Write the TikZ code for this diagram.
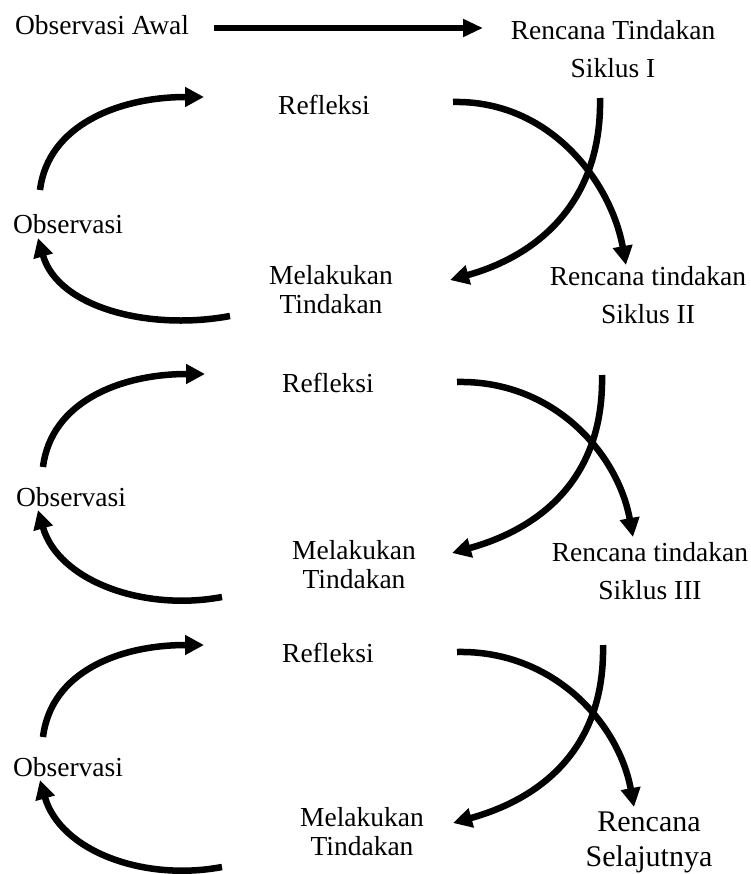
\documentclass[tikz,border=0pt]{standalone}
\usepackage{fontspec}
\setmainfont{Liberation Serif}
\usetikzlibrary{arrows.meta}
\tikzset{
  lbl/.style={inner sep=0pt, align=center, font=\fontsize{27.5}{38}\selectfont},
  lbltight/.style={inner sep=0pt, align=center, font=\fontsize{27.5}{29}\selectfont},
  lblbig/.style={inner sep=0pt, align=center, font=\fontsize{30}{35}\selectfont},
  arc/.style={line width=6.5pt, -{Triangle[length=19pt,width=19pt]}},
  straightarrow/.style={line width=5.5pt, -{Triangle[length=20pt,width=17pt]}}
}
\begin{document}
\begin{tikzpicture}[x=1pt,y=-1pt]
\useasboundingbox (0,0) rectangle (751,874);
% top row
\node[lbl] (obsawal) at (102,25) {Observasi Awal};
\node[lbl] (ren1) at (613,49) {Rencana Tindakan\\Siklus I};
\draw[straightarrow] (obsawal.east) ++(25,3) coordinate (ta) -- (483,28) coordinate (tb);

% cycle 1
\node[lbl] (refl1) at (324,105) {Refleksi};
\node[lbl] (obs1) at (68,224) {Observasi};
\node[lbltight] (mel1) at (331,290) {Melakukan\\Tindakan};
\node[lbl] (ren2) at (648,295) {Rencana tindakan\\Siklus II};
\coordinate (tl1s) at (40,190); \coordinate (tl1e) at (204,97);
\coordinate (bl1s) at (230,316); \coordinate (bl1e) at (38,238);
\coordinate (a1s) at (453,102); \coordinate (a1e) at (626,265);
\coordinate (b1s) at (600,98); \coordinate (b1e) at (450,280);
\draw[arc] (tl1s) .. controls +(8,-65) and +(-85,0) .. (tl1e);
\draw[arc] (bl1s) .. controls +(-80,15) and +(20,70) .. (bl1e);
\draw[arc] (a1s) .. controls +(97,-2) and +(-15,-83) .. (a1e);
\draw[arc] (b1s) .. controls +(2,102) and +(90,-25) .. (b1e);

% cycle 2
\node[lbl] (refl2) at (328,383) {Refleksi};
\node[lbl] (obs2) at (71,497) {Observasi};
\node[lbltight] (mel2) at (354,565) {Melakukan\\Tindakan};
\node[lbl] (ren3) at (650,571) {Rencana tindakan\\Siklus III};
\coordinate (tl2s) at (43,467); \coordinate (tl2e) at (205,374);
\coordinate (bl2s) at (222,597); \coordinate (bl2e) at (38,510);
\coordinate (a2s) at (457,382); \coordinate (a2e) at (633,537);
\coordinate (b2s) at (602,375); \coordinate (b2e) at (452,553);
\draw[arc] (tl2s) .. controls +(8,-65) and +(-85,0) .. (tl2e);
\draw[arc] (bl2s) .. controls +(-80,15) and +(20,70) .. (bl2e);
\draw[arc] (a2s) .. controls +(97,-2) and +(-15,-83) .. (a2e);
\draw[arc] (b2s) .. controls +(2,102) and +(90,-25) .. (b2e);

% cycle 3
\node[lbl] (refl3) at (328,653) {Refleksi};
\node[lbl] (obs3) at (68,767) {Observasi};
\node[lbltight] (mel3) at (362,832) {Melakukan\\Tindakan};
\node[lblbig] (ren4) at (649,842) {Rencana\\Selajutnya};
\coordinate (tl3s) at (43,737); \coordinate (tl3e) at (204,645);
\coordinate (bl3s) at (222,867); \coordinate (bl3e) at (40,780);
\coordinate (a3s) at (457,652); \coordinate (a3e) at (634,807);
\coordinate (b3s) at (603,645); \coordinate (b3e) at (453,823);
\draw[arc] (tl3s) .. controls +(8,-65) and +(-85,0) .. (tl3e);
\draw[arc] (bl3s) .. controls +(-80,15) and +(20,70) .. (bl3e);
\draw[arc] (a3s) .. controls +(97,-2) and +(-15,-83) .. (a3e);
\draw[arc] (b3s) .. controls +(2,102) and +(90,-25) .. (b3e);
\end{tikzpicture}
\end{document}
